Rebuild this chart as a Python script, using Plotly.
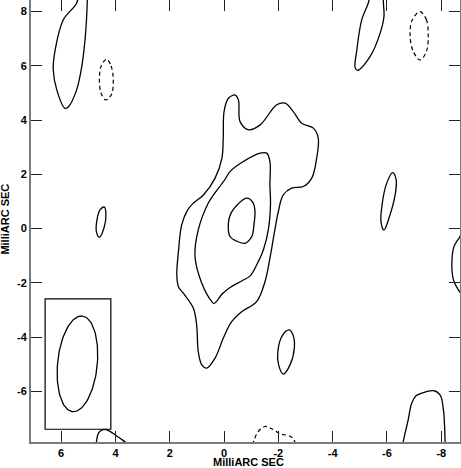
import numpy as np
import plotly.graph_objects as go

# Contornos del mapa (milliarcsec)
outer_x = [0.64, 0.82, 0.95, 1.01, 1.13, 1.50, 1.68, 1.74, 1.68, 1.56, 1.34, 1.13, 0.76, 0.33, 0.08, 0.03, 0.00,
           -0.16, -0.41, -0.53, -0.59, -0.90, -1.33, -1.94, -2.25, -2.55, -2.86, -3.29, -3.47, -3.41, -3.23,
           -2.92, -2.49, -2.18, -2.00, -1.88, -1.69, -1.51, -1.20, -0.65, -0.28, 0.03, 0.33, 0.64]
outer_y = [-5.14, -5.02, -4.53, -3.55, -2.93, -2.38, -2.14, -1.71, -0.85, 0.14, 0.69, 0.94, 1.24, 1.86, 2.59, 3.33, 4.31,
           4.80, 4.92, 4.74, 3.94, 3.64, 3.82, 4.56, 4.62, 4.31, 3.88, 3.70, 3.33, 2.59, 1.86,
           1.55, 1.49, 1.24, 0.63, 0.01, -1.09, -1.95, -2.69, -3.06, -3.43, -4.04, -4.77, -5.14]

middle_x = [0.37, 0.45, 0.82, 1.07, 0.95, 0.58, 0.39, -0.02, -0.22, -0.71, -1.33, -1.57, -1.69, -1.69, -1.71,
            -1.63, -1.45, -1.20, -0.96, -0.65, -0.22, 0.07, 0.26, 0.37]
middle_y = [-2.76, -2.69, -2.01, -1.03, -0.05, 0.94, 1.24, 1.79, 2.10, 2.47, 2.78, 2.78, 2.47, 1.61, 0.87,
            -0.05, -0.78, -1.34, -1.74, -1.93, -2.17, -2.41, -2.66, -2.76]

inner_x = [-0.84, -1.07, -1.14, -1.10, -1.03, -0.77, -0.44, -0.22, -0.16, -0.26, -0.52, -0.84]
inner_y = [1.12, 0.95, 0.62, 0.14, -0.27, -0.54, -0.45, -0.29, 0.20, 0.58, 0.91, 1.12]

topleft_x = [5.38, 5.43, 5.92, 6.22, 6.29, 6.16, 5.86, 5.73, 5.43, 5.24, 5.12, 5.06, 5.03]
topleft_y = [8.61, 8.30, 7.69, 6.58, 5.85, 5.11, 4.43, 4.49, 5.11, 5.97, 6.95, 7.81, 8.61]

left_small_x = [4.41, 4.35, 4.42, 4.59, 4.70, 4.68, 4.57, 4.41]
left_small_y = [0.79, 0.50, 0.03, -0.32, -0.12, 0.32, 0.69, 0.79]

topright_x = [-5.38, -5.31, -5.07, -4.89, -4.83, -4.92, -5.38, -5.75, -5.89, -5.87, -5.86]
topright_y = [8.61, 8.30, 7.69, 6.58, 5.92, 5.83, 6.34, 7.20, 7.81, 8.30, 8.61]

right_small_x = [-6.21, -6.34, -6.30, -6.11, -5.89, -5.78, -5.82, -5.97, -6.21]
right_small_y = [2.06, 1.79, 1.24, 0.50, -0.05, 0.25, 0.87, 1.61, 2.06]

right_edge_x = [-8.88, -8.69, -8.47, -8.39, -8.45, -8.63, -8.88]
right_edge_y = [0.14, -0.29, -0.66, -1.27, -1.89, -2.26, -2.55]

low_small_x = [-2.40, -2.54, -2.59, -2.43, -2.18, -2.01, -1.98, -2.14, -2.40]
low_small_y = [-3.73, -3.92, -4.39, -5.02, -5.36, -5.02, -4.54, -3.95, -3.73]

lowright_x = [-6.56, -6.60, -6.78, -6.91, -7.07, -7.28, -7.71, -7.96, -8.08, -8.12, -8.14, -8.14]
lowright_y = [-8.15, -7.85, -7.05, -6.43, -6.16, -6.06, -5.97, -6.13, -6.68, -7.23, -7.85, -8.15]

lowleft_x = [4.71, 4.69, 4.62, 4.46, 4.27, 3.98, 3.71, 3.46]
lowleft_y = [-8.04, -7.78, -7.52, -7.40, -7.43, -7.62, -7.81, -8.00]

# Contornos negativos (discontinuos)
neg_left_x = [4.32, 4.16, 4.08, 4.14, 4.35, 4.53, 4.59, 4.51, 4.32]
neg_left_y = [6.24, 5.99, 5.48, 4.96, 4.74, 4.99, 5.55, 6.03, 6.24]

neg_right_x = [-7.22, -7.45, -7.52, -7.46, -7.22, -6.97, -6.85, -6.93, -7.22]
neg_right_y = [7.99, 7.70, 7.13, 6.55, 6.21, 6.52, 7.13, 7.68, 7.99]

neg_bottom_x = [-1.07, -1.10, -1.25, -1.51, -1.77, -2.06, -2.36, -2.54, -2.65]
neg_bottom_y = [-7.97, -7.81, -7.49, -7.29, -7.38, -7.56, -7.62, -7.73, -7.97]

# Haz (beam)
BEAM_X0, BEAM_Y0 = 5.40, -4.98
BEAM_MAJ, BEAM_MIN, BEAM_PA = 1.77, 0.73, -5.7
BOX_X = [6.59, 4.17]
BOX_Y = [-7.39, -2.59]

x_ticks = [6, 4, 2, 0, -2, -4, -6, -8]
y_ticks = [-6, -4, -2, 0, 2, 4, 6, 8]
TITULO = "MilliARC SEC"

solid = [(outer_x, outer_y), (middle_x, middle_y), (inner_x, inner_y), (topleft_x, topleft_y),
         (left_small_x, left_small_y), (topright_x, topright_y), (right_small_x, right_small_y),
         (right_edge_x, right_edge_y), (low_small_x, low_small_y), (lowright_x, lowright_y),
         (lowleft_x, lowleft_y)]
dashed = [(neg_left_x, neg_left_y), (neg_right_x, neg_right_y), (neg_bottom_x, neg_bottom_y)]

fig = go.Figure()
for xs, ys in solid:
    fig.add_trace(go.Scatter(x=xs, y=ys, mode="lines", line=dict(color="black", width=1.3, shape="spline", smoothing=1.0)))
for xs, ys in dashed:
    fig.add_trace(go.Scatter(x=xs, y=ys, mode="lines",
                             line=dict(color="black", width=1.2, shape="spline", smoothing=1.0, dash="4px,3px")))

t = np.linspace(0, 2 * np.pi, 120)
pa = np.radians(BEAM_PA)
ux, uy = np.sin(pa), np.cos(pa)
bx = BEAM_X0 + BEAM_MAJ * np.cos(t) * ux + BEAM_MIN * np.sin(t) * uy
by = BEAM_Y0 + BEAM_MAJ * np.cos(t) * uy - BEAM_MIN * np.sin(t) * ux
fig.add_trace(go.Scatter(x=bx, y=by, mode="lines", line=dict(color="black", width=1.3)))
fig.add_shape(type="rect", x0=BOX_X[0], x1=BOX_X[1], y0=BOX_Y[0], y1=BOX_Y[1],
              line=dict(color="black", width=1.2))

fuente = dict(family="Liberation Sans", size=11, color="black", weight="bold")
eje = dict(showgrid=False, zeroline=False, showline=True, linecolor="#7a7a7a", linewidth=2, mirror="ticks",
           ticks="inside", ticklen=11, tickwidth=1, tickcolor="#222", tickfont=fuente, automargin=False)

fig.update_xaxes(range=[7.11, -8.69], tickvals=x_ticks, ticktext=[str(v) for v in x_ticks], **eje)
fig.update_yaxes(range=[-7.86, 8.42], tickvals=y_ticks, ticktext=[str(v) for v in y_ticks], **eje)

# titulos de ejes como anotaciones para fijar su posicion
fig.add_annotation(text=TITULO, xref="paper", yref="paper", x=0.507, y=-0.045, showarrow=False,
                   xanchor="center", yanchor="middle", font=fuente)
fig.add_annotation(text=TITULO, xref="paper", yref="paper", x=-0.061, y=0.505, showarrow=False,
                   xanchor="center", yanchor="middle", textangle=-90, font=fuente)

fig.update_layout(width=461, height=468, margin=dict(l=31, r=1, t=0, b=26), showlegend=False,
                  plot_bgcolor="white", paper_bgcolor="white")
# sin margen en el body para que la figura ocupe la ventana
fig.write_html("out.html", config={"displayModeBar": False}, post_script="document.body.style.margin='0';")
